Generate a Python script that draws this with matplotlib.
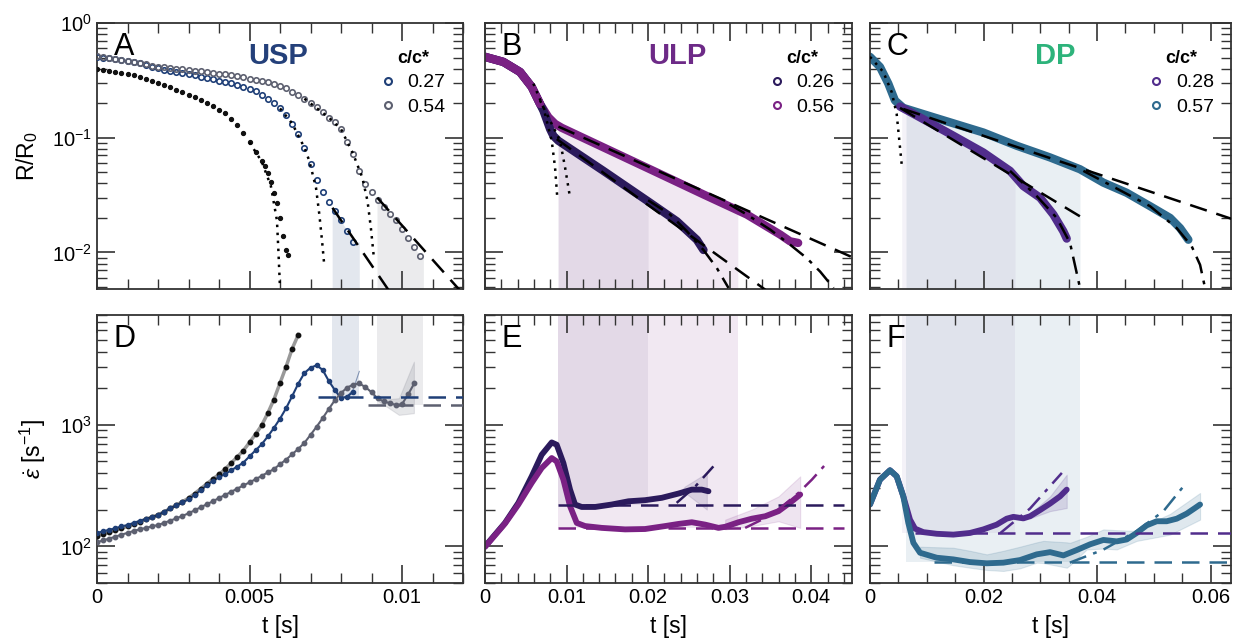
import numpy as np
import matplotlib
matplotlib.use('Agg')
import matplotlib.pyplot as plt
from matplotlib.ticker import MultipleLocator, LogLocator, FuncFormatter
from matplotlib.lines import Line2D

plt.rcParams['font.family'] = ['Liberation Sans', 'DejaVu Sans']
plt.rcParams['mathtext.fontset'] = 'custom'
plt.rcParams['mathtext.rm'] = 'Liberation Sans'
plt.rcParams['mathtext.it'] = 'Liberation Sans:italic'
plt.rcParams['mathtext.bf'] = 'Liberation Sans:bold'

# colours
c_usp1 = '#1f3f77'
c_usp2 = '#5d6070'
c_blk = '#111111'
c_ulp1 = '#2b1a5c'
c_ulp2 = '#7a2184'
c_dp1 = '#512d8c'
c_dp2 = '#2e6a8e'

# ---------------- panel A : USP, R/R0 ----------------
a_t_027 = [0, 0.0002, 0.0004, 0.0006, 0.0008, 0.0010, 0.0012, 0.0014, 0.0016, 0.0018,
           0.0020, 0.0022, 0.0024, 0.0026, 0.0028, 0.0030, 0.0032, 0.0034, 0.0036, 0.0038,
           0.0040, 0.0042, 0.0044, 0.0046, 0.0048, 0.0050, 0.0052, 0.0054, 0.0056, 0.0058,
           0.0060, 0.0062, 0.0064, 0.0066, 0.0068, 0.0070, 0.0072, 0.0074, 0.0076, 0.0078,
           0.0080, 0.0082, 0.0084]
a_r_027 = [0.507, 0.499, 0.491, 0.483, 0.475, 0.466, 0.458, 0.444, 0.430, 0.416,
           0.403, 0.393, 0.384, 0.375, 0.366, 0.358, 0.350, 0.341, 0.332, 0.323,
           0.315, 0.306, 0.298, 0.288, 0.278, 0.267, 0.254, 0.237, 0.219, 0.199,
           0.180, 0.157, 0.133, 0.108, 0.0815, 0.0588, 0.043, 0.0334, 0.0274, 0.0231,
           0.019, 0.0154, 0.0124]

a_t_054 = [0, 0.0002, 0.0004, 0.0006, 0.0008, 0.0010, 0.0012, 0.0014, 0.0016, 0.0018,
           0.0020, 0.0022, 0.0024, 0.0026, 0.0028, 0.0030, 0.0032, 0.0034, 0.0036, 0.0038,
           0.0040, 0.0042, 0.0044, 0.0046, 0.0048, 0.0050, 0.0052, 0.0054, 0.0056, 0.0058,
           0.0060, 0.0062, 0.0064, 0.0066, 0.0068, 0.0070, 0.0072, 0.0074, 0.0076, 0.0078,
           0.0080, 0.0082, 0.0084, 0.0086, 0.0088, 0.0090, 0.0092, 0.0094, 0.0096, 0.0098,
           0.0100, 0.0102, 0.0104, 0.0106]
a_r_054 = [0.520, 0.508, 0.498, 0.487, 0.476, 0.465, 0.455, 0.445, 0.435, 0.426,
           0.416, 0.410, 0.405, 0.399, 0.394, 0.388, 0.383, 0.378, 0.373, 0.367,
           0.362, 0.357, 0.352, 0.344, 0.335, 0.327, 0.319, 0.311, 0.303, 0.294,
           0.284, 0.270, 0.252, 0.236, 0.219, 0.201, 0.185, 0.167, 0.150, 0.138,
           0.119, 0.0925, 0.0718, 0.0514, 0.0397, 0.0336, 0.0287, 0.0249, 0.0217, 0.0190,
           0.0161, 0.0133, 0.0111, 0.0093]

a_t_sol = [0, 0.0002, 0.0004, 0.0006, 0.0008, 0.0010, 0.0012, 0.0014, 0.0016, 0.0018,
           0.0020, 0.0022, 0.0024, 0.0026, 0.0028, 0.0030, 0.0032, 0.0034, 0.0036, 0.0038,
           0.0040, 0.0042, 0.0044, 0.0046, 0.0048, 0.0050, 0.0052, 0.0054, 0.0055, 0.0056,
           0.0057, 0.0058, 0.0059, 0.0060, 0.0061, 0.0062, 0.00625]
a_r_sol = [0.400, 0.391, 0.383, 0.374, 0.366, 0.357, 0.349, 0.336, 0.323, 0.311,
           0.299, 0.288, 0.275, 0.262, 0.251, 0.237, 0.225, 0.213, 0.202, 0.188,
           0.175, 0.163, 0.146, 0.129, 0.110, 0.091, 0.0752, 0.0622, 0.0569, 0.0492,
           0.0413, 0.0333, 0.0270, 0.0199, 0.0138, 0.0105, 0.0095]

# fits in A
a_dot_sol_t = [0.0050, 0.0054, 0.0057, 0.0059, 0.00595, 0.0060]
a_dot_sol_r = [0.091, 0.062, 0.038, 0.019, 0.010, 0.0049]
a_dot_027_t = [0.0060, 0.0064, 0.0068, 0.00696, 0.00718, 0.00729, 0.00738, 0.00745]
a_dot_027_r = [0.180, 0.133, 0.082, 0.063, 0.0367, 0.0214, 0.0125, 0.0078]
a_dot_054_t = [0.0068, 0.0076, 0.0080, 0.0084, 0.0087, 0.00887, 0.00898, 0.00908]
a_dot_054_r = [0.219, 0.150, 0.119, 0.072, 0.0449, 0.028, 0.0163, 0.0089]
a_dash_027_t = [0.00772, 0.00958]
a_dash_027_r = [0.0245, 0.00461]
a_dash_054_t = [0.00919, 0.01192]
a_dash_054_r = [0.030, 0.0046]
a_band_027 = [0.00771, 0.0086]
a_band_054 = [0.00918, 0.0107]

# ---------------- panel D : USP, strain rate ----------------
d_t_sol = [0, 0.0002, 0.0004, 0.0006, 0.0008, 0.0010, 0.0012, 0.0014, 0.0016, 0.0018,
           0.0020, 0.0022, 0.0024, 0.0026, 0.0028, 0.0030, 0.0032, 0.0034, 0.0036, 0.0038,
           0.0040, 0.0042, 0.0044, 0.0046, 0.0048, 0.0050, 0.0052, 0.0054, 0.0056, 0.0058,
           0.0060, 0.0062, 0.0064, 0.0066]
d_e_sol = [122, 126, 131, 136, 141, 146, 153, 160, 167, 174,
           182, 192, 205, 219, 233, 249, 272, 298, 327, 359,
           391, 432, 485, 545, 614, 716, 838, 991, 1247, 1614,
           2203, 3006, 4236, 5500]

d_t_027 = [0, 0.0002, 0.0004, 0.0006, 0.0008, 0.0010, 0.0012, 0.0014, 0.0016, 0.0018,
           0.0020, 0.0022, 0.0024, 0.0026, 0.0028, 0.0030, 0.0032, 0.0034, 0.0036, 0.0038,
           0.0040, 0.0042, 0.0044, 0.0046, 0.0048, 0.0050, 0.0052, 0.0054, 0.0056, 0.0058,
           0.0060, 0.0062, 0.0064, 0.0066, 0.0068, 0.0070, 0.0072, 0.0074, 0.0076, 0.0078,
           0.0080, 0.0082, 0.0084]
d_e_027 = [129, 133, 137, 141, 146, 150, 156, 162, 168, 174,
           181, 193, 205, 217, 230, 244, 265, 290, 317, 347,
           370, 394, 422, 454, 489, 550, 617, 692, 802, 942,
           1122, 1370, 1722, 2183, 2667, 2944, 3090, 2826, 2291, 1928,
           1655, 1706, 1862]

d_t_054 = [0, 0.0002, 0.0004, 0.0006, 0.0008, 0.0010, 0.0012, 0.0014, 0.0016, 0.0018,
           0.0020, 0.0022, 0.0024, 0.0026, 0.0028, 0.0030, 0.0032, 0.0034, 0.0036, 0.0038,
           0.0040, 0.0042, 0.0044, 0.0046, 0.0048, 0.0050, 0.0052, 0.0054, 0.0056, 0.0058,
           0.0060, 0.0062, 0.0064, 0.0066, 0.0068, 0.0070, 0.0072, 0.0074, 0.0076, 0.0078,
           0.0080, 0.0082, 0.0084, 0.0086, 0.0088, 0.0090, 0.0092, 0.0094, 0.0096, 0.0098,
           0.0100, 0.0102, 0.0104]
d_e_054 = [108, 112, 116, 120, 125, 129, 134, 138, 142, 146,
           150, 156, 163, 170, 178, 187, 198, 210, 222, 235,
           250, 265, 281, 299, 317, 336, 357, 380, 406, 432,
           474, 517, 573, 634, 710, 826, 964, 1135, 1349, 1596,
           1824, 2023, 2138, 2188, 2042, 1853, 1652, 1556, 1507, 1455,
           1479, 1778, 2188]

d_band_t = [0.00925, 0.0099, 0.01039]
d_band_hi = [1603, 1655, 3305]
d_band_lo = [1553, 1207, 1247]
d_tail_027_t = [0.0082, 0.0084, 0.0086]
d_tail_027_e = [1720, 1950, 2750]
d_plateau = [1706, 1449]
d_plateau_start = [0.00723, 0.00887]

# ---------------- panel B : ULP, R/R0 ----------------
b_t_026 = [0, 0.00225, 0.0043, 0.00573, 0.00716, 0.00798, 0.00838, 0.0090, 0.01452,
           0.02025, 0.02352, 0.02597, 0.02679]
b_r_026 = [0.507, 0.458, 0.374, 0.277, 0.172, 0.119, 0.104, 0.094, 0.0514,
           0.0271, 0.0187, 0.0129, 0.0105]
b_t_056 = [0, 0.00225, 0.0043, 0.00573, 0.00675, 0.00777, 0.00859, 0.00941, 0.02066,
           0.0268, 0.0321, 0.03415, 0.0362, 0.0374, 0.0384]
b_r_056 = [0.507, 0.458, 0.374, 0.277, 0.197, 0.151, 0.132, 0.122, 0.0514,
           0.032, 0.0214, 0.0175, 0.0143, 0.0125, 0.0121]
b_dash_026_t = [0.0088, 0.036]
b_dash_026_r = [0.0973, 0.0039]
b_dash_056_t = [0.009, 0.045]
b_dash_056_r = [0.125, 0.0091]
b_dd_026_t = [0.0200, 0.0227, 0.02475, 0.02679, 0.02843, 0.02986]
b_dd_026_r = [0.0285, 0.0214, 0.0153, 0.0105, 0.0073, 0.0049]
b_dd_056_t = [0.0300, 0.0321, 0.03497, 0.03742, 0.03947, 0.0411, 0.04274]
b_dd_056_r = [0.0262, 0.0214, 0.0158, 0.01167, 0.0089, 0.0068, 0.0049]
b_dot_026_t = [0.00593, 0.00716, 0.00818, 0.00859, 0.00888]
b_dot_026_r = [0.296, 0.184, 0.094, 0.055, 0.029]
b_dot_056_t = [0.00675, 0.00798, 0.0092, 0.00982, 0.01043]
b_dot_056_r = [0.211, 0.141, 0.094, 0.055, 0.030]
b_band_026 = [0.00896, 0.0200]
b_band_056 = [0.00896, 0.0310]

# ---------------- panel E : ULP, strain rate ----------------
e_t_026 = [0, 0.00245, 0.00409, 0.00573, 0.00695, 0.00818, 0.00879, 0.00961, 0.01043,
           0.01104, 0.01186, 0.0135, 0.01554, 0.01759, 0.01963, 0.02168, 0.02372,
           0.02536, 0.02658, 0.0274]
e_e_026 = [100, 156, 228, 377, 567, 716, 686, 485, 293,
           221, 211, 211, 221, 235, 240, 251, 272,
           293, 293, 284]
e_t_056 = [0, 0.00245, 0.00409, 0.00573, 0.00695, 0.00818, 0.00879, 0.00961, 0.01043,
           0.01125, 0.01227, 0.01431, 0.01718, 0.01963, 0.02209, 0.02372, 0.02536, 0.027,
           0.02863, 0.02945, 0.03108, 0.03272, 0.03436, 0.03599, 0.03763, 0.03865]
e_e_056 = [99, 154, 221, 333, 441, 533, 500, 354, 214,
           156, 147, 142, 138, 139, 147, 153, 158, 151,
           142, 145, 158, 169, 177, 195, 235, 267]
e_band_026_t = [0.0240, 0.02454, 0.0272]
e_band_026_hi = [286, 312, 402]
e_band_026_lo = [286, 276, 201]
e_band_056_t = [0.02945, 0.03272, 0.03599, 0.03865]
e_band_056_hi = [166, 201, 258, 377]
e_band_056_lo = [138, 147, 161, 142]
e_dd_026_t = [0.0235, 0.0258, 0.0280]
e_dd_026_e = [228, 312, 455]
e_dd_056_t = [0.0319, 0.03395, 0.03599, 0.03845, 0.04008, 0.04172]
e_dd_056_e = [142, 166, 201, 276, 354, 470]
e_plateau = [217, 141]

# ---------------- panel C : DP, R/R0 ----------------
c_t_057 = [0, 0.00176, 0.00323, 0.0044, 0.00587, 0.01116, 0.01997, 0.02585, 0.03172,
           0.037, 0.04111, 0.04523, 0.04934, 0.05286, 0.05463, 0.05609]
c_r_057 = [0.507, 0.414, 0.296, 0.211, 0.182, 0.151, 0.111, 0.0851, 0.0673,
           0.0531, 0.0406, 0.0331, 0.0253, 0.020, 0.0163, 0.0129]
c_t_028 = [0, 0.00176, 0.00323, 0.0044, 0.00529, 0.00822, 0.0141, 0.01997, 0.02467,
           0.02702, 0.02996, 0.0323, 0.03406, 0.03466]
c_r_028 = [0.507, 0.414, 0.296, 0.211, 0.187, 0.156, 0.108, 0.0743, 0.0514,
           0.0379, 0.030, 0.0214, 0.0153, 0.0132]
c_dash_057_t = [0.00587, 0.064]
c_dash_057_r = [0.178, 0.0194]
c_dash_028_t = [0.00529, 0.03789]
c_dash_028_r = [0.182, 0.0194]
c_dd_028_t = [0.02467, 0.02937, 0.0329, 0.03524, 0.0370]
c_dd_028_r = [0.0514, 0.031, 0.020, 0.0121, 0.0049]
c_dd_057_t = [0.03759, 0.04934, 0.05404, 0.05668, 0.05815, 0.05903]
c_dd_057_r = [0.0514, 0.0253, 0.0163, 0.0113, 0.0078, 0.0049]
c_dot_t = [0, 0.00235, 0.00382, 0.0047, 0.00517, 0.00558]
c_dot_r = [0.507, 0.374, 0.25, 0.161, 0.094, 0.0588]
c_band_028 = [0.00558, 0.02555]
c_band_057 = [0.00634, 0.0370]

# ---------------- panel F : DP, strain rate ----------------
f_t_057 = [0, 0.00176, 0.00352, 0.0047, 0.00587, 0.00675, 0.00764, 0.00881, 0.01175,
           0.01468, 0.01762, 0.02056, 0.0235, 0.02643, 0.02937, 0.03172, 0.03407, 0.03642,
           0.03877, 0.04112, 0.04347, 0.04523, 0.04699, 0.04875, 0.05052, 0.05228, 0.05404,
           0.0558, 0.05727, 0.05815]
f_e_057 = [221, 354, 423, 377, 258, 156, 107, 88.7, 80.7,
           78.2, 74.3, 72.6, 73.5, 77.2, 86, 89.7, 84.3, 93.3,
           104, 113, 110, 114, 129, 149, 161, 161, 169,
           186, 207, 221]
f_t_028 = [0, 0.00176, 0.00352, 0.0047, 0.00587, 0.00705, 0.00793, 0.0094, 0.01175,
           0.01468, 0.01762, 0.01997, 0.02232, 0.02408, 0.02526, 0.02702, 0.0282, 0.02996,
           0.03172, 0.03348, 0.03466]
f_e_028 = [221, 354, 423, 377, 258, 166, 140, 131, 127,
           125, 129, 138, 151, 169, 175, 170, 177, 199,
           225, 258, 293]
f_band_057_t = [0.00881, 0.01468, 0.01762, 0.02056, 0.0235, 0.02643, 0.02937, 0.03054, 0.03466,
                0.03524, 0.03818, 0.04112, 0.04347, 0.04699, 0.0517, 0.05286, 0.05815]
f_band_057_hi = [99.4, 97.5, 92, 86, 92, 99.4, 108, 111, 108,
                 107, 120, 138, 136, 134, 175, 185, 275]
f_band_057_lo = [80.7, 70, 66.8, 64, 62.8, 66, 73.5, 73, 66.8,
                 70, 94.4, 96, 94.4, 111, 122, 125, 166]
f_band_028_t = [0.0282, 0.03172, 0.03466]
f_band_028_hi = [186, 258, 389]
f_band_028_lo = [170, 195, 207]
f_dd_028_t = [0.0229, 0.0282, 0.0338]
f_dd_028_e = [128, 205, 402]
f_dd_057_t = [0.0352, 0.0411, 0.0470, 0.0517, 0.0558]
f_dd_057_e = [73.5, 94, 134, 195, 337]
f_plateau = [129, 74.3]
f_plateau_start = [0.0079, 0.0112]

# ---------------- layout ----------------
W, H = 1233, 642
fig = plt.figure(figsize=(W / 100, H / 100), dpi=100)


def px_axes(x0, x1, y0, y1):
    return fig.add_axes([x0 / W, 1 - y1 / H, (x1 - x0) / W, (y1 - y0) / H])


axA = px_axes(97, 463, 23, 289)
axB = px_axes(485, 852, 23, 289)
axC = px_axes(870, 1231, 23, 289)
axD = px_axes(97, 463, 315, 583)
axE = px_axes(485, 852, 315, 583)
axF = px_axes(870, 1231, 315, 583)

fmt_x = FuncFormatter(lambda v, p: '0' if abs(v) < 1e-12 else '%g' % v)


def style(ax, xmax, xmaj, xmin, ylim):
    ax.set_yscale('log')
    ax.set_xlim(0, xmax)
    ax.set_ylim(*ylim)
    ax.xaxis.set_major_locator(MultipleLocator(xmaj))
    ax.xaxis.set_minor_locator(MultipleLocator(xmin))
    ax.xaxis.set_major_formatter(fmt_x)
    ax.yaxis.set_minor_locator(LogLocator(base=10, subs=(2, 3, 4, 5, 6, 7, 8, 9), numticks=20))
    ax.tick_params(which='both', direction='in', top=True, right=True, labelsize=14.5,
                   color='#333333')
    ax.tick_params(which='major', length=13, width=1.2)
    ax.tick_params(which='minor', length=7, width=1.0)
    for s in ax.spines.values():
        s.set_linewidth(1.3)
        s.set_color('#333333')


def fill_under(ax, t, r, lo, hi, color, alpha):
    # shade the time window below the measured curve
    t = np.asarray(t, dtype=float)
    lr = np.log10(np.asarray(r, dtype=float))
    inside = (t > lo) & (t < hi)
    tt = np.concatenate([[lo], t[inside], [hi]])
    rr = 10 ** np.concatenate([[np.interp(lo, t, lr)], lr[inside], [np.interp(hi, t, lr)]])
    ax.fill_between(tt, 1e-4, rr, color=color, alpha=alpha, lw=0, zorder=0)


ylim_r = (0.0048, 1.0)
ylim_e = (50, 8000)
style(axA, 0.012, 0.005, 0.001, ylim_r)
style(axD, 0.012, 0.005, 0.001, ylim_e)
style(axB, 0.045, 0.01, 0.002, ylim_r)
style(axE, 0.045, 0.01, 0.002, ylim_e)
style(axC, 0.0636, 0.02, 0.005, ylim_r)
style(axF, 0.0636, 0.02, 0.005, ylim_e)
for ax in (axA, axB, axC):
    ax.tick_params(labelbottom=False)
for ax in (axB, axC, axE, axF):
    ax.tick_params(labelleft=False)
for ax in (axD, axE, axF):
    ax.set_xlabel('t [s]', fontsize=16.5, labelpad=6)

axA.set_ylabel('R/R$_0$', fontsize=16.5, labelpad=9)
axD.set_ylabel(r'$\dot{\varepsilon}$ [s$^{-1}$]', fontsize=16.5, labelpad=9)

dash = (0, (7, 4))
dashdot = (0, (7, 3, 1.5, 3))
dotted = (0, (1, 2.2))

# ---------------- A ----------------
fill_under(axA, a_t_027, a_r_027, a_band_027[0], a_band_027[1], c_usp1, 0.12)
fill_under(axA, a_t_054, a_r_054, a_band_054[0], a_band_054[1], c_usp2, 0.12)
axA.plot(a_t_sol, a_r_sol, 'o', color=c_blk, ms=2.8, zorder=3)
axA.plot(a_t_027, a_r_027, 'o', mfc='none', mec=c_usp1, mew=1.2, ms=3.9, zorder=3)
axA.plot(a_t_054, a_r_054, 'o', mfc='none', mec=c_usp2, mew=1.2, ms=3.9, zorder=3)
axA.plot(a_dot_sol_t, a_dot_sol_r, color='k', ls=dotted, lw=1.8, zorder=4)
axA.plot(a_dot_027_t, a_dot_027_r, color='k', ls=dotted, lw=1.8, zorder=4)
axA.plot(a_dot_054_t, a_dot_054_r, color='k', ls=dotted, lw=1.8, zorder=4)
axA.plot(a_dash_027_t, a_dash_027_r, color='k', ls=dash, lw=1.8, zorder=4)
axA.plot(a_dash_054_t, a_dash_054_r, color='k', ls=dash, lw=1.8, zorder=4)

# ---------------- D ----------------
axD.fill_between(a_band_027, d_plateau[0], 1e5, color=c_usp1, alpha=0.12, lw=0, zorder=0)
axD.fill_between(a_band_054, d_plateau[1], 1e5, color=c_usp2, alpha=0.12, lw=0, zorder=0)
axD.fill_between(d_band_t, d_band_lo, d_band_hi, color=c_usp2, alpha=0.15, lw=0.8, zorder=1)
axD.plot(d_tail_027_t, d_tail_027_e, color=c_usp1, lw=0.8, alpha=0.5, zorder=1)
axD.plot(d_t_sol, d_e_sol, '-', color='#999999', lw=2.5, zorder=2)
axD.plot(d_t_sol, d_e_sol, 'o', color=c_blk, ms=3.2, zorder=3)
axD.plot(d_t_027, d_e_027, '-', color=c_usp1, lw=1.5, zorder=2)
axD.plot(d_t_027, d_e_027, 'o', color=c_usp1, ms=3.0, zorder=3)
axD.plot(d_t_054, d_e_054, '-', color=c_usp2, lw=1.5, zorder=2)
axD.plot(d_t_054, d_e_054, 'o', color=c_usp2, ms=3.2, zorder=3)
axD.plot([d_plateau_start[0], 0.012], [d_plateau[0]] * 2, color=c_usp1, ls=dash, lw=1.8, zorder=4)
axD.plot([d_plateau_start[1], 0.012], [d_plateau[1]] * 2, color=c_usp2, ls=dash, lw=1.8, zorder=4)

# ---------------- B ----------------
fill_under(axB, b_t_056, b_r_056, b_band_056[0], b_band_056[1], c_ulp2, 0.1)
fill_under(axB, b_t_026, b_r_026, b_band_026[0], b_band_026[1], c_ulp1, 0.07)
axB.plot(b_t_056, b_r_056, color=c_ulp2, lw=6, solid_capstyle='round', zorder=2)
axB.plot(b_t_026, b_r_026, color=c_ulp1, lw=6, solid_capstyle='round', zorder=2)
axB.plot(b_t_056[:5], b_r_056[:5], color=c_ulp2, lw=6, solid_capstyle='round', zorder=2)
axB.plot(b_dot_026_t, b_dot_026_r, color='k', ls=dotted, lw=1.8, zorder=4)
axB.plot(b_dot_056_t, b_dot_056_r, color='k', ls=dotted, lw=1.8, zorder=4)
axB.plot(b_dash_026_t, b_dash_026_r, color='k', ls=dash, lw=1.8, zorder=4)
axB.plot(b_dash_056_t, b_dash_056_r, color='k', ls=dash, lw=1.8, zorder=4)
axB.plot(b_dd_026_t, b_dd_026_r, color='k', ls=dashdot, lw=1.8, zorder=4)
axB.plot(b_dd_056_t, b_dd_056_r, color='k', ls=dashdot, lw=1.8, zorder=4)

# ---------------- E ----------------
axE.fill_between(b_band_056, e_plateau[1], 1e5, color=c_ulp2, alpha=0.1, lw=0, zorder=0)
axE.fill_between(b_band_026, e_plateau[0], 1e5, color=c_ulp1, alpha=0.07, lw=0, zorder=0)
axE.fill_between(e_band_026_t, e_band_026_lo, e_band_026_hi, color=c_ulp1, alpha=0.12,
                 lw=0.8, zorder=1)
axE.fill_between(e_band_056_t, e_band_056_lo, e_band_056_hi, color=c_ulp2, alpha=0.12,
                 lw=0.8, zorder=1)
axE.plot(e_t_026, e_e_026, color=c_ulp1, lw=4.2, solid_capstyle='round', zorder=2)
axE.plot(e_t_056, e_e_056, color=c_ulp2, lw=4.2, solid_capstyle='round', zorder=2)
axE.plot([b_band_026[0], 0.044], [e_plateau[0]] * 2, color=c_ulp1, ls=dash, lw=1.8, zorder=4)
axE.plot([b_band_026[0], 0.044], [e_plateau[1]] * 2, color=c_ulp2, ls=dash, lw=1.8, zorder=4)
axE.plot(e_dd_026_t, e_dd_026_e, color=c_ulp1, ls=dashdot, lw=1.8, zorder=4)
axE.plot(e_dd_056_t, e_dd_056_e, color=c_ulp2, ls=dashdot, lw=1.8, zorder=4)

# ---------------- C ----------------
fill_under(axC, c_t_057, c_r_057, c_band_057[0], c_band_057[1], c_dp2, 0.1)
fill_under(axC, c_t_028, c_r_028, c_band_028[0], c_band_028[1], c_dp1, 0.06)
axC.plot(c_t_057, c_r_057, color=c_dp2, lw=6, solid_capstyle='round', zorder=2)
axC.plot(c_t_028[4:], c_r_028[4:], color=c_dp1, lw=6, solid_capstyle='round', zorder=2)
axC.plot(c_dot_t, c_dot_r, color='k', ls=dotted, lw=1.8, zorder=4)
axC.plot(c_dash_057_t, c_dash_057_r, color='k', ls=dash, lw=1.8, zorder=4)
axC.plot(c_dash_028_t, c_dash_028_r, color='k', ls=dash, lw=1.8, zorder=4)
axC.plot(c_dd_028_t, c_dd_028_r, color='k', ls=dashdot, lw=1.8, zorder=4)
axC.plot(c_dd_057_t, c_dd_057_r, color='k', ls=dashdot, lw=1.8, zorder=4)

# ---------------- F ----------------
axF.fill_between(c_band_057, f_plateau[1], 1e5, color=c_dp2, alpha=0.1, lw=0, zorder=0)
axF.fill_between(c_band_028, f_plateau[0], 1e5, color=c_dp1, alpha=0.06, lw=0, zorder=0)
axF.fill_between(f_band_057_t, f_band_057_lo, f_band_057_hi, color=c_dp2, alpha=0.15,
                 lw=0.8, zorder=1)
axF.fill_between(f_band_028_t, f_band_028_lo, f_band_028_hi, color=c_dp1, alpha=0.15,
                 lw=0.8, zorder=1)
axF.plot(f_t_028, f_e_028, color=c_dp1, lw=4.2, solid_capstyle='round', zorder=2)
axF.plot(f_t_057, f_e_057, color=c_dp2, lw=4.2, solid_capstyle='round', zorder=2)
axF.plot([f_plateau_start[0], 0.0636], [f_plateau[0]] * 2, color=c_dp1, ls=dash, lw=1.8, zorder=4)
axF.plot([f_plateau_start[1], 0.0636], [f_plateau[1]] * 2, color=c_dp2, ls=dash, lw=1.8, zorder=4)
axF.plot(f_dd_028_t, f_dd_028_e, color=c_dp1, ls=dashdot, lw=1.8, zorder=4)
axF.plot(f_dd_057_t, f_dd_057_e, color=c_dp2, ls=dashdot, lw=1.8, zorder=4)

# ---------------- labels, titles, legends ----------------
for ax, letter in zip((axA, axB, axC, axD, axE, axF), 'ABCDEF'):
    ax.text(0.045, 0.965, letter, transform=ax.transAxes, fontsize=22, va='top', ha='left')

titles = [(axA, 'USP', '#24407a', 0.495), (axB, 'ULP', '#6d2a87', 0.523), (axC, 'DP', '#2db37b', 0.512)]
for ax, name, col, xp in titles:
    ax.text(xp, 0.875, name, transform=ax.transAxes, fontsize=21, fontweight='bold',
            color=col, ha='center', va='center')

legends = [(axA, ['0.27', '0.54'], [c_usp1, c_usp2]),
           (axB, ['0.26', '0.56'], [c_ulp1, c_ulp2]),
           (axC, ['0.28', '0.57'], [c_dp1, c_dp2])]
for ax, labs, cols in legends:
    hs = [Line2D([], [], ls='none', marker='o', mfc='none', mec=c, mew=1.5, ms=5) for c in cols]
    leg = ax.legend(hs, labs, title='c/c*', loc='upper right', bbox_to_anchor=(0.99, 0.95),
                    frameon=False, fontsize=14, title_fontsize=13, handlelength=0.8,
                    handletextpad=0.6, labelspacing=0.35, borderpad=0.2)
    leg.get_title().set_fontweight('bold')

fig.savefig('out.png', dpi=100)
